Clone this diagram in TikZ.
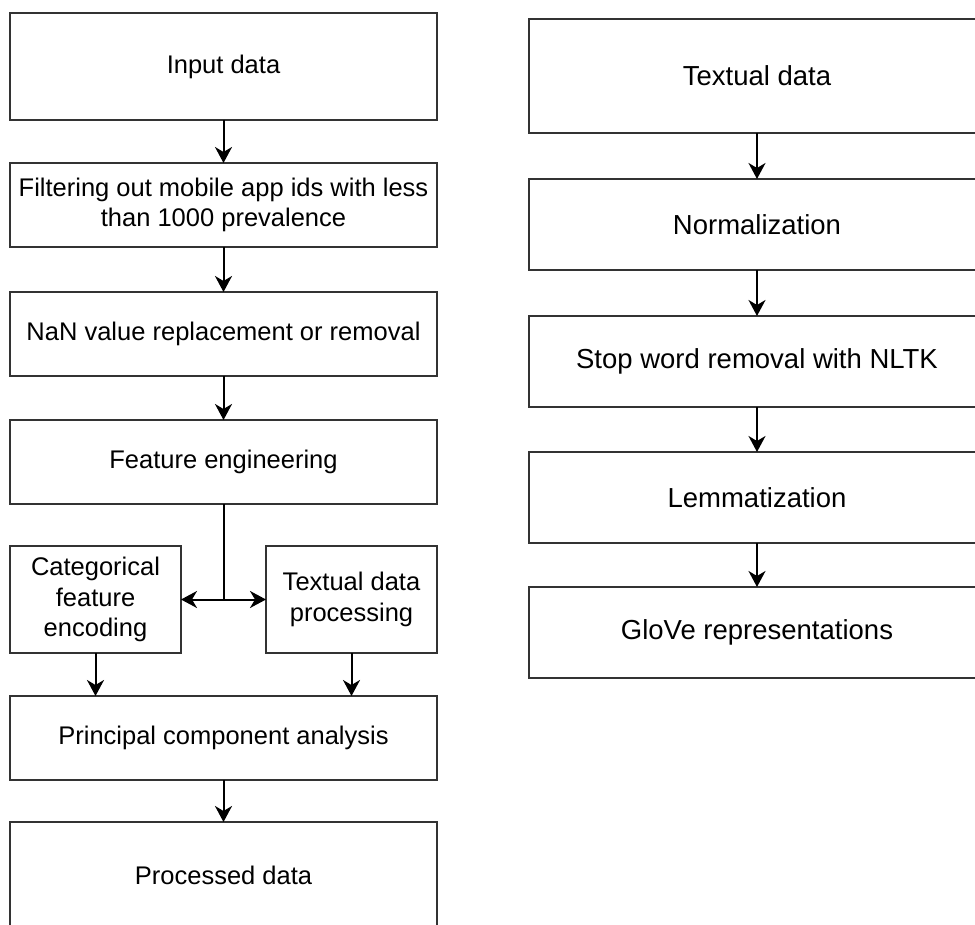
\documentclass[tikz,border=0pt]{standalone}
\usepackage{fontspec}
\setmainfont{Liberation Sans}
\usetikzlibrary{arrows.meta,positioning}

\begin{document}
\begin{tikzpicture}[
    font=\fontsize{25.5}{30.5}\selectfont,
    >={Stealth[length=16pt,width=17pt,inset=5pt]},
    line width=2pt,
    stepbox/.style={draw=black!80, rectangle, outer sep=0pt, align=center, minimum width=427pt, minimum height=84pt},
    halfbox/.style={draw=black!80, rectangle, outer sep=0pt, align=center, minimum width=171pt, minimum height=107pt},
    textbox/.style={draw=black!80, rectangle, outer sep=0pt, align=center, minimum width=456pt, minimum height=91pt, font=\fontsize{27.5}{33}\selectfont}
]
\useasboundingbox (0,0) rectangle (975pt,-925pt);
\clip (0,0) rectangle (975pt,-925pt);

% left column
\node[stepbox, minimum height=107pt] (input) at (223.5pt,-66.5pt) {Input data};
\node[stepbox, below=43pt of input] (filter) {Filtering out mobile app ids with less\\than 1000 prevalence};
\node[stepbox, below=45pt of filter] (nan) {NaN value replacement or removal};
\node[stepbox, below=44pt of nan] (feat) {Feature engineering};

\node[halfbox, below right=42pt and 0pt of feat.south west] (cat) {Categorical\\feature\\encoding};
\node[halfbox, below left=42pt and 0pt of feat.south east] (tdp) {Textual data\\processing};

\node[stepbox, below right=43pt and 0pt of cat.south west] (pca) {Principal component analysis};
\node[stepbox, minimum height=107pt, below=42pt of pca] (proc) {Processed data};

% right column
\node[textbox, minimum height=114pt] (text) at (757pt,-76pt) {Textual data};
\node[textbox, below=46pt of text] (norm) {Normalization};
\node[textbox, below=46pt of norm] (stop) {Stop word removal with NLTK};
\node[textbox, below=45pt of stop] (lemma) {Lemmatization};
\node[textbox, below=44pt of lemma] (glove) {GloVe representations};

% connectors
\draw[->] (input) -- (filter);
\draw[->] (filter) -- (nan);
\draw[->] (nan) -- (feat);
\draw (feat.south) -- (feat.south |- cat.east);
\draw[<->] (cat.east) -- (tdp.west);
\draw[->] (cat) -- (cat |- pca.north);
\draw[->] (tdp) -- (tdp |- pca.north);
\draw[->] (pca) -- (proc);

\draw[->] (text) -- (norm);
\draw[->] (norm) -- (stop);
\draw[->] (stop) -- (lemma);
\draw[->] (lemma) -- (glove);
\end{tikzpicture}
\end{document}
